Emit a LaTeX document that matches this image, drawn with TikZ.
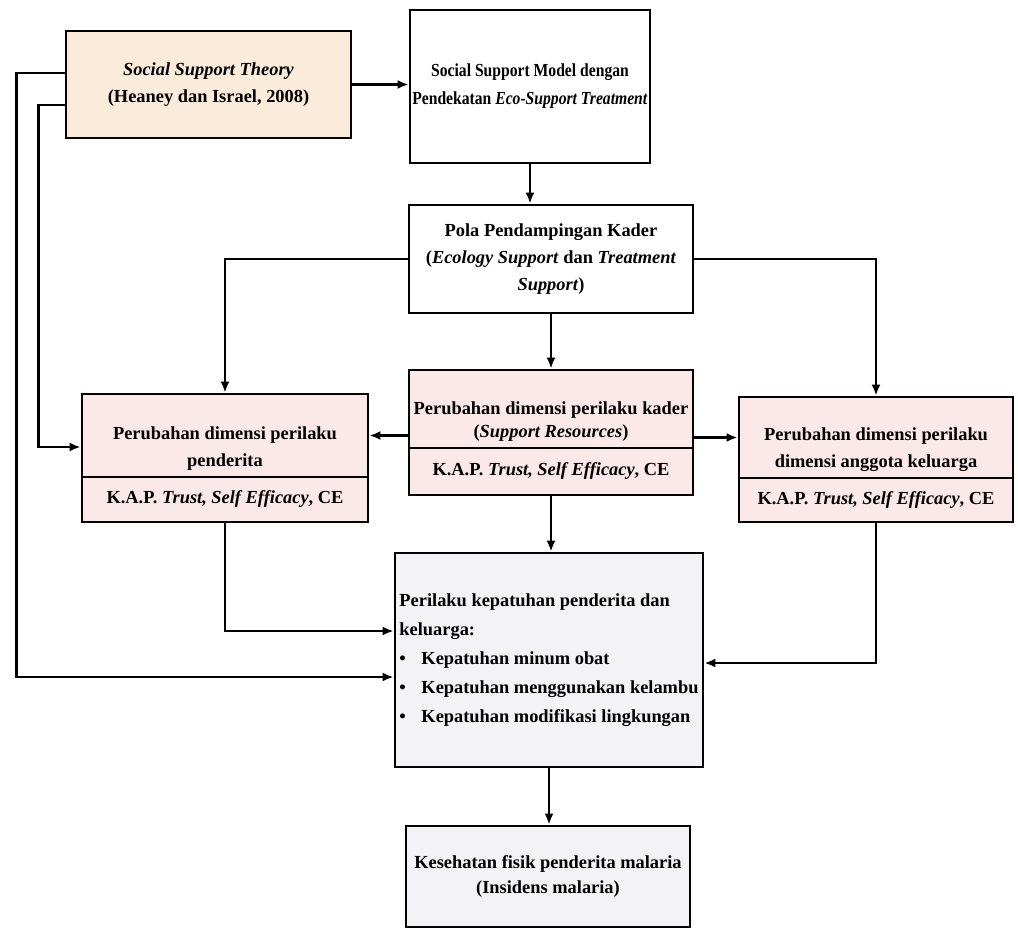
\documentclass[tikz,border=0pt]{standalone}
\usepackage{fontspec}
\setmainfont{Liberation Serif}
\newfontfamily\narrowfont{Liberation Serif}[FakeStretch=0.85]
\usetikzlibrary{arrows.meta}

\definecolor{peach}{HTML}{FBEBDA}
\definecolor{blush}{HTML}{FBE9EA}
\definecolor{mist}{HTML}{F3F3F5}

\begin{document}
\begin{tikzpicture}[x=1pt, y=-1pt,
  box/.style={draw, line width=2.8pt, align=center, inner sep=2pt,
    font=\fontsize{18.4}{27}\selectfont\bfseries},
  arr/.style={-{Latex[length=11pt,width=9pt]}, line width=2.3pt}]

  \newcommand\drop{\rule{0pt}{38pt}}

  \fill[white] (0,0) rectangle (1018,929);

  % top row
  \node[box, fill=peach, minimum width=285pt, minimum height=107pt] (theory) at (208.5,84.5)
    {\textit{Social Support Theory}\\(Heaney dan Israel, 2008)};
  \node[box, minimum width=240pt, minimum height=153pt,
    font=\narrowfont\fontsize{18.4}{28}\selectfont\bfseries] (model) at (530,86.5)
    {Social Support Model dengan\\Pendekatan \textit{Eco-Support Treatment}};

  \node[box, minimum width=284pt, minimum height=108pt] (pola) at (551,259)
    {Pola Pendampingan Kader\\(\textit{Ecology Support} dan \textit{Treatment}\\\textit{Support})};

  % middle row, upper and lower parts
  \node[box, fill=blush, minimum width=284pt, minimum height=78pt,
    font=\fontsize{18.4}{23}\selectfont\bfseries] (kaderU) at (551,409)
    {\drop Perubahan dimensi perilaku kader\\(\textit{Support Resources})};
  \node[box, fill=blush, minimum width=284pt, minimum height=47pt] (kaderK) at (551,471.5)
    {K.A.P. \textit{Trust, Self Efficacy}, CE};

  \node[box, fill=blush, minimum width=286pt, minimum height=83pt] (pendU) at (225,435.5)
    {\drop Perubahan dimensi perilaku\\penderita};
  \node[box, fill=blush, minimum width=286pt, minimum height=45pt] (pendK) at (225,499.5)
    {K.A.P. \textit{Trust, Self Efficacy}, CE};

  \node[box, fill=blush, minimum width=274pt, minimum height=81pt] (kelU) at (876,437.5)
    {\drop Perubahan dimensi perilaku\\dimensi anggota keluarga};
  \node[box, fill=blush, minimum width=274pt, minimum height=44pt] (kelK) at (876,500)
    {K.A.P. \textit{Trust, Self Efficacy}, CE};

  % bottom
  \node[box, fill=mist, minimum width=308pt, minimum height=214pt, align=left,
    font=\fontsize{18.4}{29}\selectfont\bfseries] (kep) at (549,660)
    {Perilaku kepatuhan penderita dan\\keluarga:\\
     \makebox[22pt][l]{\textbullet}Kepatuhan minum obat\\
     \makebox[22pt][l]{\textbullet}Kepatuhan menggunakan kelambu\\
     \makebox[22pt][l]{\textbullet}Kepatuhan modifikasi lingkungan};
  \node[box, fill=mist, minimum width=284pt, minimum height=101pt,
    font=\fontsize{18.4}{25}\selectfont\bfseries] (kes) at (548,876.5)
    {Kesehatan fisik penderita malaria\\(Insidens malaria)};

  \draw[arr] (theory.east) -- (theory.east -| model.west);
  \draw[arr] (model.south) -- (model.south |- pola.north);
  \draw[arr] (pola.south) -- (kaderU.north);
  \draw[arr] (pola.west) -| (pendU.north);
  \draw[arr] (pola.east) -| (kelU.north);
  \draw[arr] (kaderU.west |- pendU.east) -- (pendU.east);
  \draw[arr] (kaderU.east |- kelU.west) -- (kelU.west);
  \draw[arr] (kaderK.south) -- (kaderK.south |- kep.north);
  \draw[arr] (pendK.south) |- ([yshift=29pt]kep.west);
  \draw[arr] (kelK.south) |- ([yshift=-3pt]kep.east);
  \draw[arr] ([yshift=11.5pt]theory.west) -- ++(-48,0) |- ([yshift=-17pt]kep.west);
  \draw[arr] ([yshift=-20.5pt]theory.west) -- ++(-26,0) |- ([yshift=-11.5pt]pendU.west);
  \draw[arr] (kep.south) -- (kep.south |- kes.north);

\end{tikzpicture}
\end{document}
